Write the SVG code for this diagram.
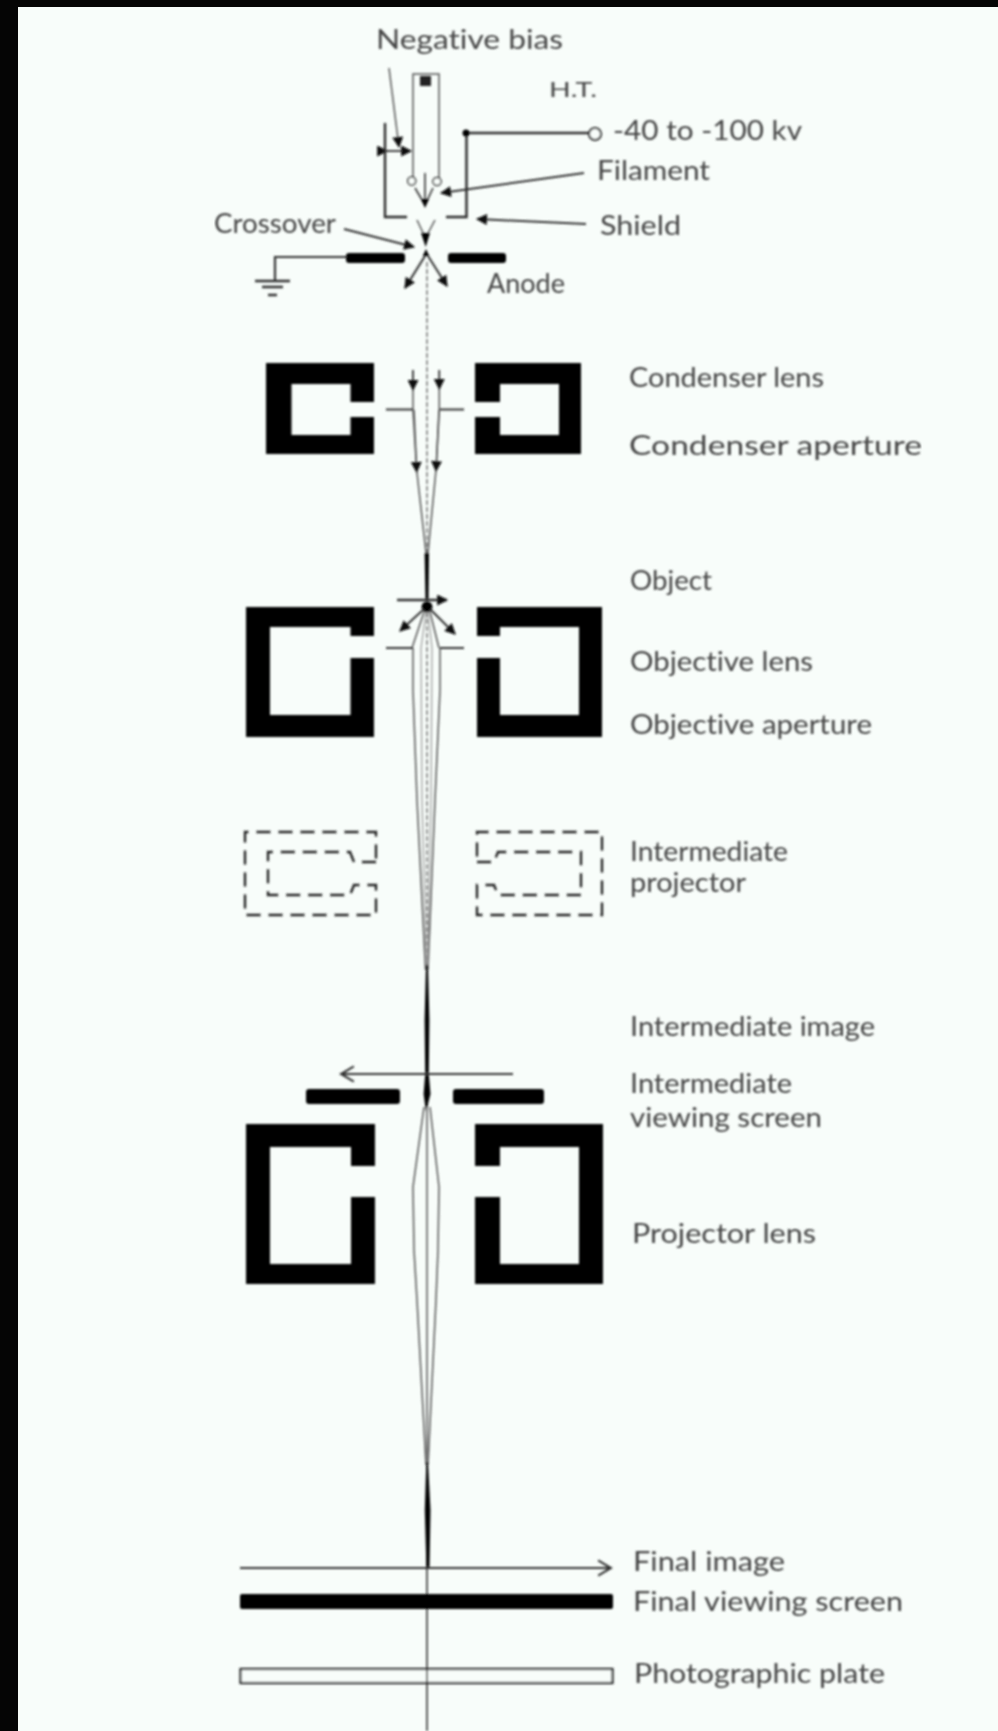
<svg xmlns="http://www.w3.org/2000/svg" width="998" height="1731" viewBox="0 0 998 1731">
<style>
.lb{font-family:"Lato","Liberation Sans",Arial,sans-serif;font-size:27px;fill:#444;font-variant-ligatures:none}
.k{fill:#050505;stroke:none}
.w{fill:none;stroke:#2a2a2a;stroke-width:2}
.t{fill:none;stroke:#333;stroke-width:2}
.r{fill:none;stroke:#555;stroke-width:1.5}
.f{fill:none;stroke:#999;stroke-width:1.2}
.ax{fill:none;stroke:#777;stroke-width:1.5;stroke-dasharray:5 2}
.d{fill:none;stroke:#222;stroke-width:2.4;stroke-dasharray:14 8}
</style>
<defs>
<filter id="soft" x="0" y="0" width="100%" height="100%" filterUnits="objectBoundingBox"><feGaussianBlur stdDeviation="0.9"/></filter>
<marker id="a" viewBox="0 0 10 10" refX="9" refY="5" markerWidth="13" markerHeight="11" markerUnits="userSpaceOnUse" orient="auto"><path d="M0,0L10,5L0,10Z" fill="#111"/></marker>
<marker id="o" viewBox="0 0 12 14" refX="11" refY="7" markerWidth="16" markerHeight="18" markerUnits="userSpaceOnUse" orient="auto"><path d="M1,1L11,7L1,13" fill="none" stroke="#333" stroke-width="1.6"/></marker>
</defs>
<rect id="page" width="998" height="1731" fill="#f8fdfa"/>
<g filter="url(#soft)">
<g id="connectors">
<path class="ax" d="M427,262V1100"/>
<path class="t" style="stroke-width:1.6" d="M427,1100V1731"/>
<path class="r" d="M413,648V690L417,800L425.5,970M440,648V690L435,800L428,970"/>
<path class="f" d="M421,648L422,800L426.5,970M432,648L431,800L427.5,970"/>
<path class="k" d="M426,965H428L429.4,1020L428.8,1074L430.5,1094L426,1112L423.6,1094L425.2,1074L424.6,1020Z"/>
<path class="r" d="M424,1107L413,1187L414,1250L417,1300L426,1465M430,1107L439,1187L438,1250L436,1300L428,1465"/>
<path class="f" d="M427,1107V1465"/>
<path class="k" d="M426.3,1462H428L430.5,1510L429.5,1568H426.4L424.8,1510Z"/>
<path class="r" d="M413,370V410L416.7,470M439.3,370V410L436,470M416.7,470L426,553M436,470L428,553"/>
<path class="t" d="M413,370V390" marker-end="url(#a)" style="stroke-width:1.6"/><path class="t" d="M439.3,370V389" marker-end="url(#a)" style="stroke-width:1.6"/>
<path class="r" d="M414,410L416.7,472" marker-end="url(#a)"/><path class="r" d="M439,410L436,471" marker-end="url(#a)"/>
<path class="k" d="M424.6,553H429L428.5,600H425.5Z"/>
<circle class="k" cx="427" cy="607" r="5.5"/>
<path class="t" style="stroke-width:2.6" d="M397,600H447" marker-end="url(#a)"/>
<path class="t" d="M424,609L400,631" marker-end="url(#a)"/><path class="t" d="M430,609L455,634" marker-end="url(#a)"/>
<path class="r" d="M424,612L412,648M430,612L439,648"/>
<path class="f" d="M426,612L421,648M428,612L432,648"/>
<path class="t" d="M513,1074H341" marker-end="url(#o)"/>
<path class="t" d="M240,1568H611" marker-end="url(#o)"/>
<path class="r" d="M413,178V74H439V178"/>
<path class="t" d="M425,173V203M415,188L425,205L433,188" style="stroke-width:1.6"/>
<path class="k" d="M421,199H429L425,208Z"/>
<path class="r" d="M417,220L425,237M435,220L426,237"/>
<path class="k" d="M421,233H430L425.7,247ZM422.7,256H429.3L426,249Z"/>
<path class="t" d="M425,256L405,288" marker-end="url(#a)"/><path class="t" d="M428,256L447,286" marker-end="url(#a)"/>
<path class="r" d="M389,68L399,147" marker-end="url(#a)"/>
<path class="t" d="M387,151H411" marker-start="url(#a)" marker-end="url(#a)" style="stroke-width:1.8"/>
<path class="t" d="M584,173L441,193" marker-end="url(#a)"/>
<path class="t" d="M586,224L477,219" marker-end="url(#a)"/>
<path class="t" d="M344,229L414,247" marker-end="url(#a)"/>
<path class="t" d="M346,257H275V281" style="stroke-width:2.2"/>
<path class="t" style="stroke-width:2.6" d="M466,133H589"/>
</g>
<g id="gun">
<rect fill="#222" x="420" y="76" width="11" height="10"/>
<circle cx="411.7" cy="181" r="4" fill="#f8fdfa" stroke="#333" stroke-width="1.6"/>
<circle cx="437" cy="181.5" r="4" fill="#f8fdfa" stroke="#333" stroke-width="1.6"/>
</g>
<g id="shield"><path class="w" style="stroke-width:2.4" d="M385,123V217H407M466.5,133V217H446"/><circle class="k" cx="466" cy="133" r="3.5"/></g>
<g id="ht-terminal"><circle cx="595" cy="134" r="6" fill="#f8fdfa" stroke="#222" stroke-width="2"/></g>
<g id="anode"><rect class="k" x="346" y="253" width="59" height="10" rx="3"/><rect class="k" x="448" y="253" width="58" height="10" rx="3"/></g>
<g id="ground"><path class="t" d="M255,281H290M262,287H283M268,295H277" style="stroke-width:2.4"/></g>
<g id="condenser-lens">
<path class="k" d="M266,363H374V402H350.5V384H291.5V435H350.5V417H374V454H266Z"/>
<path class="k" d="M581,363H475V402H500V384H559V435H500V417H475V454H581Z"/>
</g>
<g id="condenser-aperture"><path class="t" d="M386,409.5H413M440,409.5H464"/></g>
<g id="objective-lens">
<path class="k" d="M246,607H374V636H350.5V627H270V715H350.5V658H374V737H246Z"/>
<path class="k" d="M602,607H477V636H500V627H579V715H500V658H477V737H602Z"/>
</g>
<g id="objective-aperture"><path class="t" d="M386,648H413M440,648H464"/></g>
<g id="intermediate-projector">
<path class="d" d="M376,862H354L350,852H268V895H350L354,885H376V915H245V832H376Z"/>
<path class="d" d="M477,862H494L498,852H581V895H498L494,885H477V915H602V832H477Z"/>
</g>
<g id="intermediate-screen"><rect class="k" x="306" y="1089" width="94" height="15" rx="3"/><rect class="k" x="453" y="1089" width="91" height="15" rx="3"/></g>
<g id="projector-lens">
<path class="k" d="M246,1124H375V1166H351V1147H270V1264H351V1197H375V1284H246Z"/>
<path class="k" d="M603,1124H475V1166H500V1147H579V1264H500V1197H475V1284H603Z"/>
</g>
<g id="final-screen"><rect class="k" x="240" y="1594" width="373" height="15" rx="2"/></g>
<g id="photographic-plate"><rect x="240.5" y="1669" width="372" height="14" fill="#f8fdfa" stroke="#222" stroke-width="2.2"/><path class="t" style="stroke-width:1.6" d="M427,1669V1683"/></g>
<g id="labels">
<text class="lb" x="376" y="49" textLength="187" lengthAdjust="spacingAndGlyphs">Negative bias</text>
<text class="lb" x="549" y="97" textLength="48" lengthAdjust="spacingAndGlyphs" style="font-size:22px">H.T.</text>
<text class="lb" x="613" y="140" textLength="189" lengthAdjust="spacingAndGlyphs">-40 to -100 kv</text>
<text class="lb" x="597" y="180" textLength="113" lengthAdjust="spacingAndGlyphs">Filament</text>
<text class="lb" x="600" y="235" textLength="81" lengthAdjust="spacingAndGlyphs">Shield</text>
<text class="lb" x="214" y="233" textLength="122" lengthAdjust="spacingAndGlyphs">Crossover</text>
<text class="lb" x="487" y="293" textLength="78" lengthAdjust="spacingAndGlyphs">Anode</text>
<text class="lb" x="629" y="387" textLength="195" lengthAdjust="spacingAndGlyphs">Condenser lens</text>
<text class="lb" x="629" y="455" textLength="293" lengthAdjust="spacingAndGlyphs">Condenser aperture</text>
<text class="lb" x="630" y="590" textLength="82" lengthAdjust="spacingAndGlyphs">Object</text>
<text class="lb" x="630" y="671" textLength="183" lengthAdjust="spacingAndGlyphs">Objective lens</text>
<text class="lb" x="630" y="734" textLength="242" lengthAdjust="spacingAndGlyphs">Objective aperture</text>
<text class="lb" x="630" y="861" textLength="158" lengthAdjust="spacingAndGlyphs">Intermediate</text>
<text class="lb" x="630" y="892" textLength="116" lengthAdjust="spacingAndGlyphs">projector</text>
<text class="lb" x="630" y="1036" textLength="245" lengthAdjust="spacingAndGlyphs">Intermediate image</text>
<text class="lb" x="630" y="1093" textLength="162" lengthAdjust="spacingAndGlyphs">Intermediate</text>
<text class="lb" x="630" y="1127" textLength="192" lengthAdjust="spacingAndGlyphs">viewing screen</text>
<text class="lb" x="632" y="1243" textLength="184" lengthAdjust="spacingAndGlyphs">Projector lens</text>
<text class="lb" x="633" y="1571" textLength="152" lengthAdjust="spacingAndGlyphs">Final image</text>
<text class="lb" x="633" y="1611" textLength="270" lengthAdjust="spacingAndGlyphs">Final viewing screen</text>
<text class="lb" x="634" y="1683" textLength="251" lengthAdjust="spacingAndGlyphs">Photographic plate</text>
</g>
</g>
<g id="frame"><rect width="998" height="7" fill="#050505"/><rect width="18" height="1731" fill="#050505"/></g>
</svg>
